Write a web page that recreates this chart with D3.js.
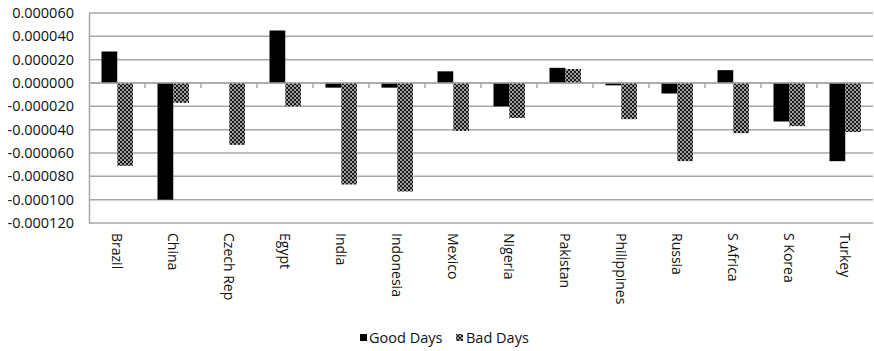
<!DOCTYPE html>
<html>
<head>
  <script src="https://d3js.org/d3.v7.min.js"></script>
  <style>
    body { margin: 0; background: #fff; }
    text { font-family: "Open Sans", sans-serif; fill: #111; }
  </style>
</head>
<body>
  <svg id="chart"></svg>
  <script>
    var countries = ["Brazil", "China", "Czech Rep", "Egypt", "India", "Indonesia", "Mexico",
                     "Nigeria", "Pakistan", "Philippines", "Russia", "S Africa", "S Korea", "Turkey"];
    var goodDays = [0.000027, -0.000100, 0, 0.000045, -0.000004, -0.000004, 0.000010,
                    -0.000020, 0.000013, -0.000002, -0.000009, 0.000011, -0.000033, -0.000067];
    var badDays = [-0.000071, -0.000017, -0.000053, -0.000020, -0.000087, -0.000093, -0.000041,
                   -0.000030, 0.000012, -0.000031, -0.000067, -0.000043, -0.000037, -0.000042];
    var yTicks = [0.00006, 0.00004, 0.00002, 0, -0.00002, -0.00004, -0.00006, -0.00008, -0.0001, -0.00012];
    var seriesNames = ["Good Days", "Bad Days"];

    var width = 874, height = 351;
    var plot = { left: 89, right: 873, top: 13, bottom: 223 };

    var svg = d3.select("#chart").attr("width", width).attr("height", height);

    // checker pattern for the Bad Days bars
    var defs = svg.append("defs");
    var pat = defs.append("pattern")
      .attr("id", "checker")
      .attr("patternUnits", "userSpaceOnUse")
      .attr("width", 4).attr("height", 4);
    pat.append("rect").attr("width", 4).attr("height", 4).attr("fill", "#1a1a1a");
    [[0, 0], [4, 0], [0, 4], [4, 4], [2, 2]].forEach(function(p) {
      pat.append("circle").attr("cx", p[0]).attr("cy", p[1]).attr("r", 0.95).attr("fill", "#d8d8d8");
    });

    var x = d3.scaleBand()
      .domain(countries)
      .range([plot.left, plot.right]);

    var x1 = d3.scaleBand()
      .domain(seriesNames)
      .range([12.5, 12.5 + 31.5]);

    var y = d3.scaleLinear()
      .domain([-0.00012, 0.00006])
      .range([plot.bottom, plot.top]);

    // gridlines
    svg.append("g")
      .selectAll("line")
      .data(yTicks)
      .enter()
      .append("line")
      .attr("x1", plot.left)
      .attr("x2", plot.right)
      .attr("y1", d => y(d))
      .attr("y2", d => y(d))
      .attr("stroke", "#a6a6a6")
      .attr("stroke-width", 1.5);

    // y axis
    var yAxis = svg.append("g")
      .attr("transform", "translate(" + plot.left + ",0)")
      .call(d3.axisLeft(y).tickValues(yTicks).tickSize(0).tickPadding(15)
        .tickFormat(d => d3.format(".6f")(d).replace("−", "-")));
    yAxis.select(".domain").attr("stroke", "#a6a6a6").attr("stroke-width", 1.5);
    yAxis.selectAll("text")
      .style("font-family", "'Open Sans', sans-serif")
      .style("font-size", "14.5px")
      .attr("fill", "#111");

    // bars
    var groups = svg.append("g")
      .selectAll("g")
      .data(countries)
      .enter()
      .append("g")
      .attr("transform", d => "translate(" + x(d) + ",0)");

    groups.append("rect")
      .attr("x", x1("Good Days"))
      .attr("width", x1.bandwidth())
      .attr("y", (d, i) => y(Math.max(0, goodDays[i])))
      .attr("height", (d, i) => Math.abs(y(goodDays[i]) - y(0)))
      .attr("fill", "#000");

    groups.append("rect")
      .attr("x", x1("Bad Days"))
      .attr("width", x1.bandwidth())
      .attr("y", (d, i) => y(Math.max(0, badDays[i])))
      .attr("height", (d, i) => Math.abs(y(badDays[i]) - y(0)))
      .attr("fill", "url(#checker)");

    // zero axis with small tick marks between categories
    svg.append("line")
      .attr("x1", plot.left).attr("x2", plot.right)
      .attr("y1", y(0)).attr("y2", y(0))
      .attr("stroke", "#a6a6a6").attr("stroke-width", 1.5);

    svg.append("g")
      .selectAll("line")
      .data(countries.slice(1))
      .enter()
      .append("line")
      .attr("x1", d => x(d)).attr("x2", d => x(d))
      .attr("y1", y(0)).attr("y2", y(0) + 5)
      .attr("stroke", "#a6a6a6").attr("stroke-width", 1.5);

    // category labels, rotated
    svg.append("g")
      .selectAll("text")
      .data(countries)
      .enter()
      .append("text")
      .attr("transform", d => "translate(" + (x(d) + x.bandwidth() / 2) + ",233) rotate(90)")
      .attr("dy", "0.35em")
      .style("font-size", "14px")
      .text(d => d);

    // legend
    var legend = svg.append("g");
    var legendItems = [
      { name: "Good Days", fill: "#000", x: 360, tx: 369 },
      { name: "Bad Days", fill: "url(#checker)", x: 456, tx: 466 }
    ];
    legendItems.forEach(function(it) {
      legend.append("rect")
        .attr("x", it.x).attr("y", 334)
        .attr("width", 7).attr("height", 7)
        .attr("fill", it.fill);
      legend.append("text")
        .attr("x", it.tx).attr("y", 343)
        .style("font-size", "14.5px")
        .text(it.name);
    });
  </script>
</body>
</html>
